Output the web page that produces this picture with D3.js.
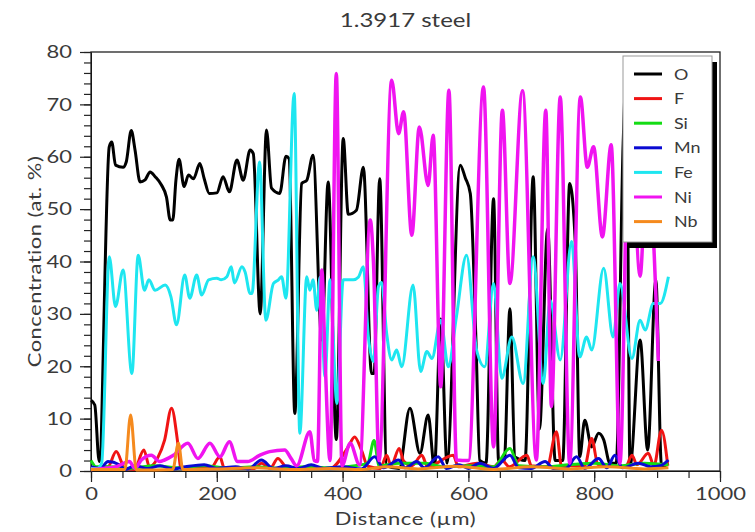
<!DOCTYPE html>
<html>
<head>
<meta charset="utf-8">
<script src="https://cdn.jsdelivr.net/npm/d3@7"></script>
<style>
  body { margin: 0; background: #fff; }
  text { font-family: Lato, "Open Sans", sans-serif; fill: #3a3a3a; }
</style>
</head>
<body>
<div id="chart"></div>
<script>
// line scan, [distance (um), concentration (at. %)]
const O = [[0,13.5],[6,12.6],[13,1.8],[29,61.9],[33,62.8],[39,58.4],[51,58],[56,59],[64,65],[70,61.3],[78,55.2],[86,55.6],[94,57.1],[102,56.2],[112,54.6],[120,52.3],[126,47.9],[130,47.9],[135,55.5],[140,59.5],[148,54.3],[155,56.5],[163,55.8],[173,58.7],[180,55.8],[188,53],[200,53.1],[210,56.2],[220,53.3],[232,59.4],[242,55.5],[253,61.3],[258,60.6],[269,30],[279,65.1],[287,54],[300,53],[310,60.1],[315,59.6],[324,11],[335,54.9],[343,55.5],[353,60.3],[367,25],[377,55.2],[390,6],[401,63.5],[409,49],[422,49.8],[433,58],[446,18.6],[450,18.6],[459,55.8],[470,1],[490,0.5],[507,12],[523,3.4],[536,10.7],[546,0.7],[556,29],[566,1.5],[587,58.4],[595,56],[603,53],[612,25],[618,2],[628,1.5],[640,52],[648,2],[657,2],[666,31],[674,2.7],[690,2],[703,56.2],[713,8],[726,46.3],[738,2],[750,2],[761,54.9],[770,43.4],[777,2.7],[785,9.7],[796,4.6],[807,7.2],[815,6],[825,1.5],[835,1.5],[846,62.5],[851,76],[857,1],[873,25],[885,4],[898,36.5],[907,1],[915,1]];
const F = [[0,0.5],[27,0.8],[40,3.7],[54,0.5],[69,0.3],[84,4],[93,0.8],[106,2.5],[117,5.9],[128,12],[138,5.3],[143,0.5],[190,0.5],[205,2.7],[212,0.5],[260,0.5],[271,1.5],[285,0.5],[297,2.4],[313,0.5],[380,0.5],[409,4.6],[419,6.5],[430,4],[440,0.9],[460,0.5],[470,3],[477,1],[490,4.3],[497,1.9],[510,1],[526,3],[535,0.8],[576,3],[584,0.8],[614,1.5],[640,0.8],[653,2.1],[665,0.8],[693,3],[700,1],[725,0.8],[740,7.5],[748,1],[785,1],[796,6.2],[806,1.2],[850,0.8],[860,3],[868,1.2],[886,3.4],[895,1],[907,7.8],[917,1]];
const Si = [[0,2],[8,0.8],[30,0.8],[60,0.5],[100,1],[140,0.6],[180,1],[220,0.5],[260,0.8],[300,0.5],[340,0.8],[380,0.6],[420,1],[440,1.5],[450,5.8],[458,1],[490,1.5],[532,1.5],[560,0.8],[600,1],[640,0.8],[666,4.3],[680,1],[720,0.8],[760,1.2],[800,1.5],[840,1],[880,1.5],[918,1.2]];
const Mn = [[0,0.8],[15,0.5],[27,1.8],[45,1.2],[54,0.3],[70,1],[90,0.5],[110,1],[130,0.4],[150,0.8],[180,1.2],[200,0.5],[230,0.8],[250,0.4],[271,2.1],[290,0.5],[310,1],[330,0.5],[350,1.2],[370,0.5],[400,0.8],[430,0.4],[451,2.7],[465,0.6],[489,2.1],[500,0.6],[518,1.8],[530,0.6],[552,2.7],[565,0.5],[585,1.2],[600,0.5],[618,1.5],[640,0.5],[666,3],[680,0.6],[700,0.5],[722,1.8],[735,0.5],[755,0.5],[772,2.7],[785,0.5],[807,2.4],[820,0.6],[833,3],[845,0.6],[870,1.5],[890,0.8],[905,1],[918,2.1]];
const Fe = [[0,0.5],[10,0.5],[17,1.5],[29,40.9],[39,31.4],[51,38.4],[65,18.6],[75,41.2],[85,34.5],[92,36.5],[102,34.5],[118,35.5],[127,33.3],[136,27.9],[149,37.4],[157,33],[168,37.4],[176,33.6],[187,36.5],[200,36.8],[207,36.5],[216,37.1],[223,39],[228,35.9],[240,39],[245,38],[253,33.9],[256,33.9],[268,59],[278,28.8],[290,35.8],[298,36.5],[303,37.1],[310,33],[323,72.1],[332,7.2],[343,37.1],[348,34.5],[353,36.5],[359,30.7],[364,37],[372,18],[380,36.5],[391,12.9],[401,36.5],[417,36.5],[425,37],[433,39],[441,25.6],[449,20.9],[457,35.2],[462,36],[470,26.3],[478,21.2],[486,23.1],[494,19.9],[512,35.5],[524,19],[534,22.8],[542,21.5],[556,28.8],[568,19.9],[581,29.5],[597,41.2],[613,23.1],[626,19.9],[640,35.8],[653,17.7],[669,25.6],[687,16.7],[703,40.9],[719,16.7],[730,32.6],[746,21.2],[764,43.8],[777,21.8],[788,25.6],[796,23.1],[815,38.7],[830,25.6],[841,35.8],[860,21.5],[873,28.8],[881,26.9],[894,32],[905,32],[918,37.1]];
const Ni = [[0,0.3],[20,0.5],[40,0.8],[61,1.8],[70,0.5],[80,2.1],[96,3],[109,1.8],[117,2.1],[131,3],[154,5.3],[170,2.4],[189,5.3],[205,2.7],[220,5.6],[233,1.8],[249,1.8],[268,3],[284,3.7],[308,4],[318,2.4],[327,1],[348,7.5],[355,2],[360,1.8],[367,38.4],[372,22],[380,2],[390,75.9],[399,1],[412,5.3],[427,1.2],[444,47.9],[449,40],[458,2],[478,74.6],[489,64.4],[497,68.6],[510,45],[522,65.7],[536,54.5],[544,64.1],[556,16.1],[569,72.7],[581,2.1],[600,2],[624,73.3],[640,4.6],[654,68.9],[666,35.8],[686,72.6],[708,2.1],[723,68.9],[732,12.3],[746,71.4],[761,1.5],[778,71.4],[789,58],[799,61.9],[813,44.7],[827,62.3],[841,1.5],[856,72],[873,37.2],[884,60],[902,21]];
const Nb = [[0,0.3],[54,0.3],[63,10.7],[72,0.2],[130,0.3],[139,5.3],[146,0.3],[200,0.4],[260,0.6],[320,0.3],[380,0.5],[430,0.3],[470,0.8],[520,0.4],[580,0.9],[640,0.3],[700,0.8],[760,0.4],[820,0.8],[880,0.4],[918,0.6]];

const seriesNames = ['O', 'F', 'Si', 'Mn', 'Fe', 'Ni', 'Nb'];
const seriesData = [O, F, Si, Mn, Fe, Ni, Nb];
const seriesColors = ['#000000', '#f01414', '#14dc14', '#0a0ad2', '#1ee6f0', '#f014f0', '#f58a1e'];

const xTicks = [0, 200, 400, 600, 800, 1000];
const yTicks = [0, 10, 20, 30, 40, 50, 60, 70, 80];

let W = 755, H = 532;
let m = {top: 52, right: 35, bottom: 61, left: 91};
const _STRETCH = 1.22; // the original font is much wider than Lato

let svg = d3.select('#chart').append('svg')
  .attr('width', W)
  .attr('height', H);

let x = d3.scaleLinear().domain([0, 1000]).range([m.left, W - m.right]);
let y = d3.scaleLinear().domain([0, 80]).range([H - m.bottom, m.top]);

// widen a text around its anchor point
function stretch(sel, ax, ay, k) {
  sel.attr('transform', `translate(${ax},${ay}) scale(${k},1) translate(${-ax},${-ay})`);
}

// minor ticks first, then major ones
svg.append('g')
  .attr('transform', `translate(0,${H - m.bottom})`)
  .call(d3.axisBottom(x).tickValues(d3.range(0, 1001, 50)).tickSize(7).tickFormat(''))
  .call(g => g.select('.domain').remove());
svg.append('g')
  .attr('transform', `translate(${m.left},0)`)
  .call(d3.axisLeft(y).tickValues(d3.range(0, 81, 2)).tickSize(7).tickFormat(''))
  .call(g => g.select('.domain').remove());

let xAxis = svg.append('g')
  .attr('transform', `translate(0,${H - m.bottom})`)
  .call(d3.axisBottom(x).tickValues(xTicks).tickSize(11).tickPadding(5).tickFormat(d3.format('d')));
let yAxis = svg.append('g')
  .attr('transform', `translate(${m.left},0)`)
  .call(d3.axisLeft(y).tickValues(yTicks).tickSize(11).tickPadding(8).tickFormat(d3.format('d')));

svg.selectAll('.tick line').attr('stroke', '#222').attr('stroke-width', 1.2);
svg.selectAll('.tick text').style('font-size', '18px').style('font-family', 'Lato, sans-serif').attr('fill', '#3a3a3a');
xAxis.selectAll('.tick text').each(function() { stretch(d3.select(this), 0, 0, _STRETCH); });
yAxis.selectAll('.tick text').each(function() { stretch(d3.select(this), -19, 0, _STRETCH); });

// frame
svg.append('rect')
  .attr('x', m.left)
  .attr('y', m.top)
  .attr('width', W - m.left - m.right)
  .attr('height', H - m.top - m.bottom)
  .style('fill', 'none')
  .style('stroke', '#222')
  .style('stroke-width', 1.3);

let line = d3.line()
  .x(d => x(d[0]))
  .y(d => y(d[1]))
  .curve(d3.curveMonotoneX);

let plot = svg.append('g');
seriesData.forEach((s, i) => {
  plot.append('path')
    .datum(s)
    .attr('d', line)
    .style('fill', 'none')
    .style('stroke', seriesColors[i])
    .style('stroke-width', i === 5 ? 3.5 : 3)
    .style('stroke-linejoin', 'round');
});

let cx = (m.left + W - m.right) / 2;

svg.append('text')
  .attr('x', cx)
  .attr('y', 27)
  .attr('text-anchor', 'middle')
  .style('font-size', '20px')
  .text('1.3917 steel')
  .call(s => stretch(s, cx, 27, 1.2));

svg.append('text')
  .attr('x', cx)
  .attr('y', 525)
  .attr('text-anchor', 'middle')
  .style('font-size', '18px')
  .style('letter-spacing', '0.5px')
  .text('Distance (µm)')
  .call(s => stretch(s, cx, 525, _STRETCH));

svg.append('text')
  .attr('transform', `translate(41,${(m.top + H - m.bottom) / 2}) rotate(-90) scale(${_STRETCH},1)`)
  .attr('text-anchor', 'middle')
  .style('font-size', '18px')
  .style('letter-spacing', '0.4px')
  .text('Concentration (at. %)');

// legend with solid shadow
let lg = svg.append('g').attr('transform', 'translate(623,56)');
lg.append('rect')
  .attr('x', 5).attr('y', 6)
  .attr('width', 89).attr('height', 186)
  .style('fill', '#000');
lg.append('rect')
  .attr('x', 0).attr('y', 0)
  .attr('width', 89).attr('height', 186)
  .style('fill', '#fff')
  .style('stroke', '#999')
  .style('stroke-width', 1);

seriesNames.forEach((n, i) => {
  let ly = 18 + i * 24.6;
  lg.append('line')
    .attr('x1', 11).attr('x2', 39)
    .attr('y1', ly).attr('y2', ly)
    .style('stroke', seriesColors[i])
    .style('stroke-width', 3);
  lg.append('text')
    .attr('x', 51)
    .attr('y', ly)
    .attr('dy', '0.35em')
    .style('font-size', '16px')
    .text(n)
    .call(s => stretch(s, 51, ly, 1.12));
});
</script>
</body>
</html>
